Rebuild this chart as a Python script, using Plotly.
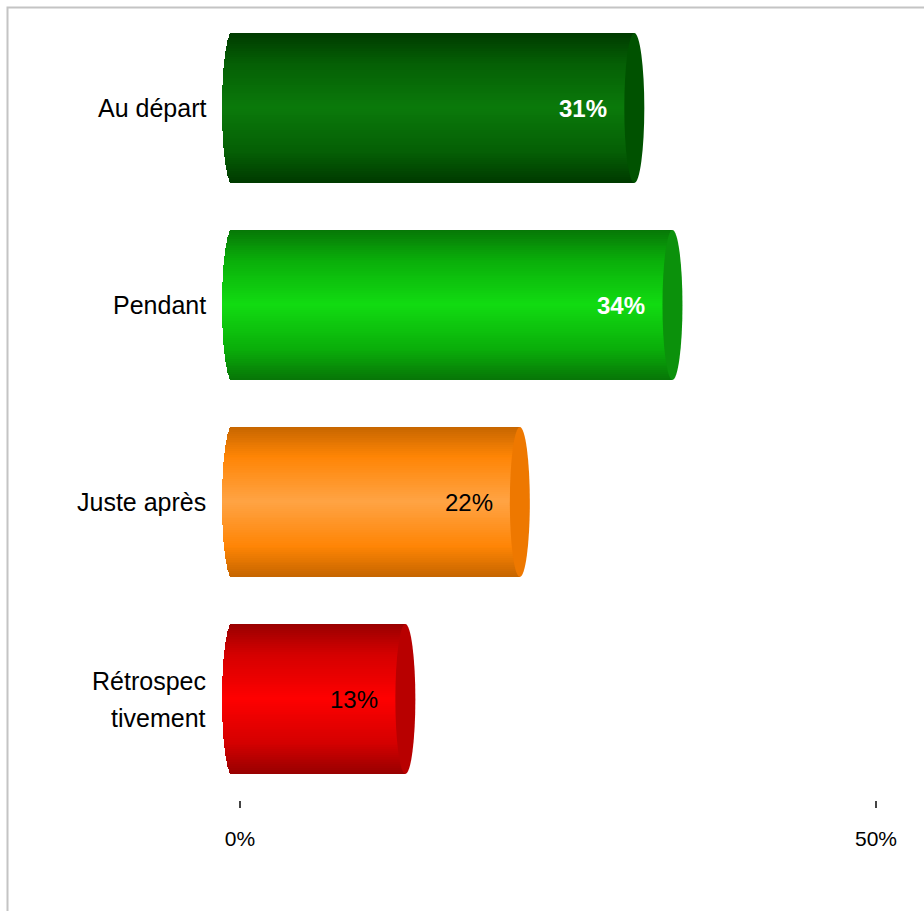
import numpy as np
import plotly.graph_objects as go

# ---- data ----
categories = ["Au départ", "Pendant", "Juste après", "Rétrospec<br>tivement"]
values = [31, 34, 22, 13]
value_labels = ["31%", "34%", "22%", "13%"]
tick_values = [0, 50]
tick_labels = ["0%", "50%"]

# ---- styling ----
# (edge, mid, centre, cap) colours for each cylinder
palette = [
    ("#003a00", "#055f05", "#0b7a0b", "#005200"),
    ("#077607", "#0aae0a", "#12dc12", "#0b910b"),
    ("#c66600", "#ff8505", "#ffa445", "#ee7800"),
    ("#980000", "#d40000", "#ff0000", "#b80000"),
]
label_style = [("white", True), ("white", True), ("black", False), ("black", False)]
FONT = "Liberation Sans, Arial, sans-serif"

W, H = 924, 911
PX_PER_UNIT = 12.72          # x pixels per percent
X0_PX = 240                  # pixel position of 0 %
PLOT_H = 800                 # height of the plotting area
ROW_PX = 197                 # row spacing in pixels
FIRST_ROW_PX = 108

x_range = [(0 - X0_PX) / PX_PER_UNIT, (W - X0_PX) / PX_PER_UNIT]
y_range = [(PLOT_H - FIRST_ROW_PX) / ROW_PX, -FIRST_ROW_PX / ROW_PX]

half_h = 75 / ROW_PX                 # half thickness of a cylinder
cap_a = 10 / PX_PER_UNIT             # horizontal radius of the end ellipses
left_c = -8 / PX_PER_UNIT            # centre of the rounded back end (depth offset)
K = 80                               # number of shading strips per cylinder
LINE_GAP = 37 / ROW_PX               # spacing of wrapped category lines


def hex2rgb(h):
    h = h.lstrip("#")
    return np.array([int(h[i:i + 2], 16) for i in (0, 2, 4)], float)


def shade(edge, mid, centre, d):
    e, m, c = hex2rgb(edge), hex2rgb(mid), hex2rgb(centre)
    if d < 0.6:
        col = c + (m - c) * (d / 0.6)
    else:
        col = m + (e - m) * ((d - 0.6) / 0.4)
    col = np.clip(col, 0, 255).astype(int)
    return f"rgb({col[0]},{col[1]},{col[2]})"


ys, xs, bases, widths, colors = [], [], [], [], []
strip = 2 * half_h / K
for i, (v, pal) in enumerate(zip(values, palette)):
    for k in range(K):
        t = (k + 0.5) / K
        dy = (t - 0.5) * 2 * half_h
        ex = cap_a * np.sqrt(max(0.0, 1 - (dy / half_h) ** 2))
        start = left_c - ex
        ys.append(i + dy)
        bases.append(start)
        xs.append(v - start)
        widths.append(strip * 1.5)
        colors.append(shade(pal[0], pal[1], pal[2], abs(2 * t - 1)))

fig = go.Figure()
fig.add_trace(go.Bar(
    y=ys, x=xs, base=bases, width=widths, orientation="h",
    marker=dict(color=colors, line=dict(width=0)),
    hoverinfo="skip", showlegend=False,
))

shapes = []
annotations = []
for i, (v, pal, lab, cat) in enumerate(zip(values, palette, value_labels, categories)):
    # front end cap of the cylinder
    shapes.append(dict(
        type="circle", xref="x", yref="y",
        x0=v - cap_a, x1=v + cap_a, y0=i - half_h, y1=i + half_h,
        fillcolor=pal[3], line=dict(width=0), layer="above",
    ))
    col, bold = label_style[i]
    annotations.append(dict(
        x=v - cap_a - 15 / PX_PER_UNIT, y=i, xref="x", yref="y",
        text=f"<b>{lab}</b>" if bold else lab, showarrow=False,
        xanchor="right", yanchor="middle",
        font=dict(family=FONT, size=24, color=col),
    ))
    lines = cat.split("<br>")
    for j, line in enumerate(lines):
        annotations.append(dict(
            x=208 / W, y=i + (j - (len(lines) - 1) / 2) * LINE_GAP,
            xref="paper", yref="y",
            text=line, showarrow=False, xanchor="right", yanchor="middle",
            font=dict(family=FONT, size=25, color="black"),
        ))

# outer chart frame
shapes.append(dict(
    type="rect", xref="paper", yref="paper",
    x0=7.5 / W, x1=1.2, y0=-0.5, y1=1 - 7.5 / PLOT_H,
    line=dict(color="#c4c4c4", width=2), fillcolor="rgba(0,0,0,0)", layer="below",
))

fig.update_layout(
    width=W, height=H,
    margin=dict(l=0, r=0, t=0, b=H - PLOT_H, pad=0),
    paper_bgcolor="white", plot_bgcolor="white",
    barmode="overlay", bargap=0,
    shapes=shapes, annotations=annotations,
    xaxis=dict(
        range=x_range, showgrid=False, zeroline=False, showline=False,
        tickmode="array", tickvals=tick_values, ticktext=tick_labels,
        ticks="outside", ticklen=7, tickwidth=2, tickcolor="#444444",
        tickfont=dict(family=FONT, size=21, color="black"),
        ticklabelstandoff=13, fixedrange=True,
    ),
    yaxis=dict(
        range=y_range, showgrid=False, zeroline=False, showline=False,
        showticklabels=False, ticks="", fixedrange=True,
    ),
)

fig.write_html("out.html")
